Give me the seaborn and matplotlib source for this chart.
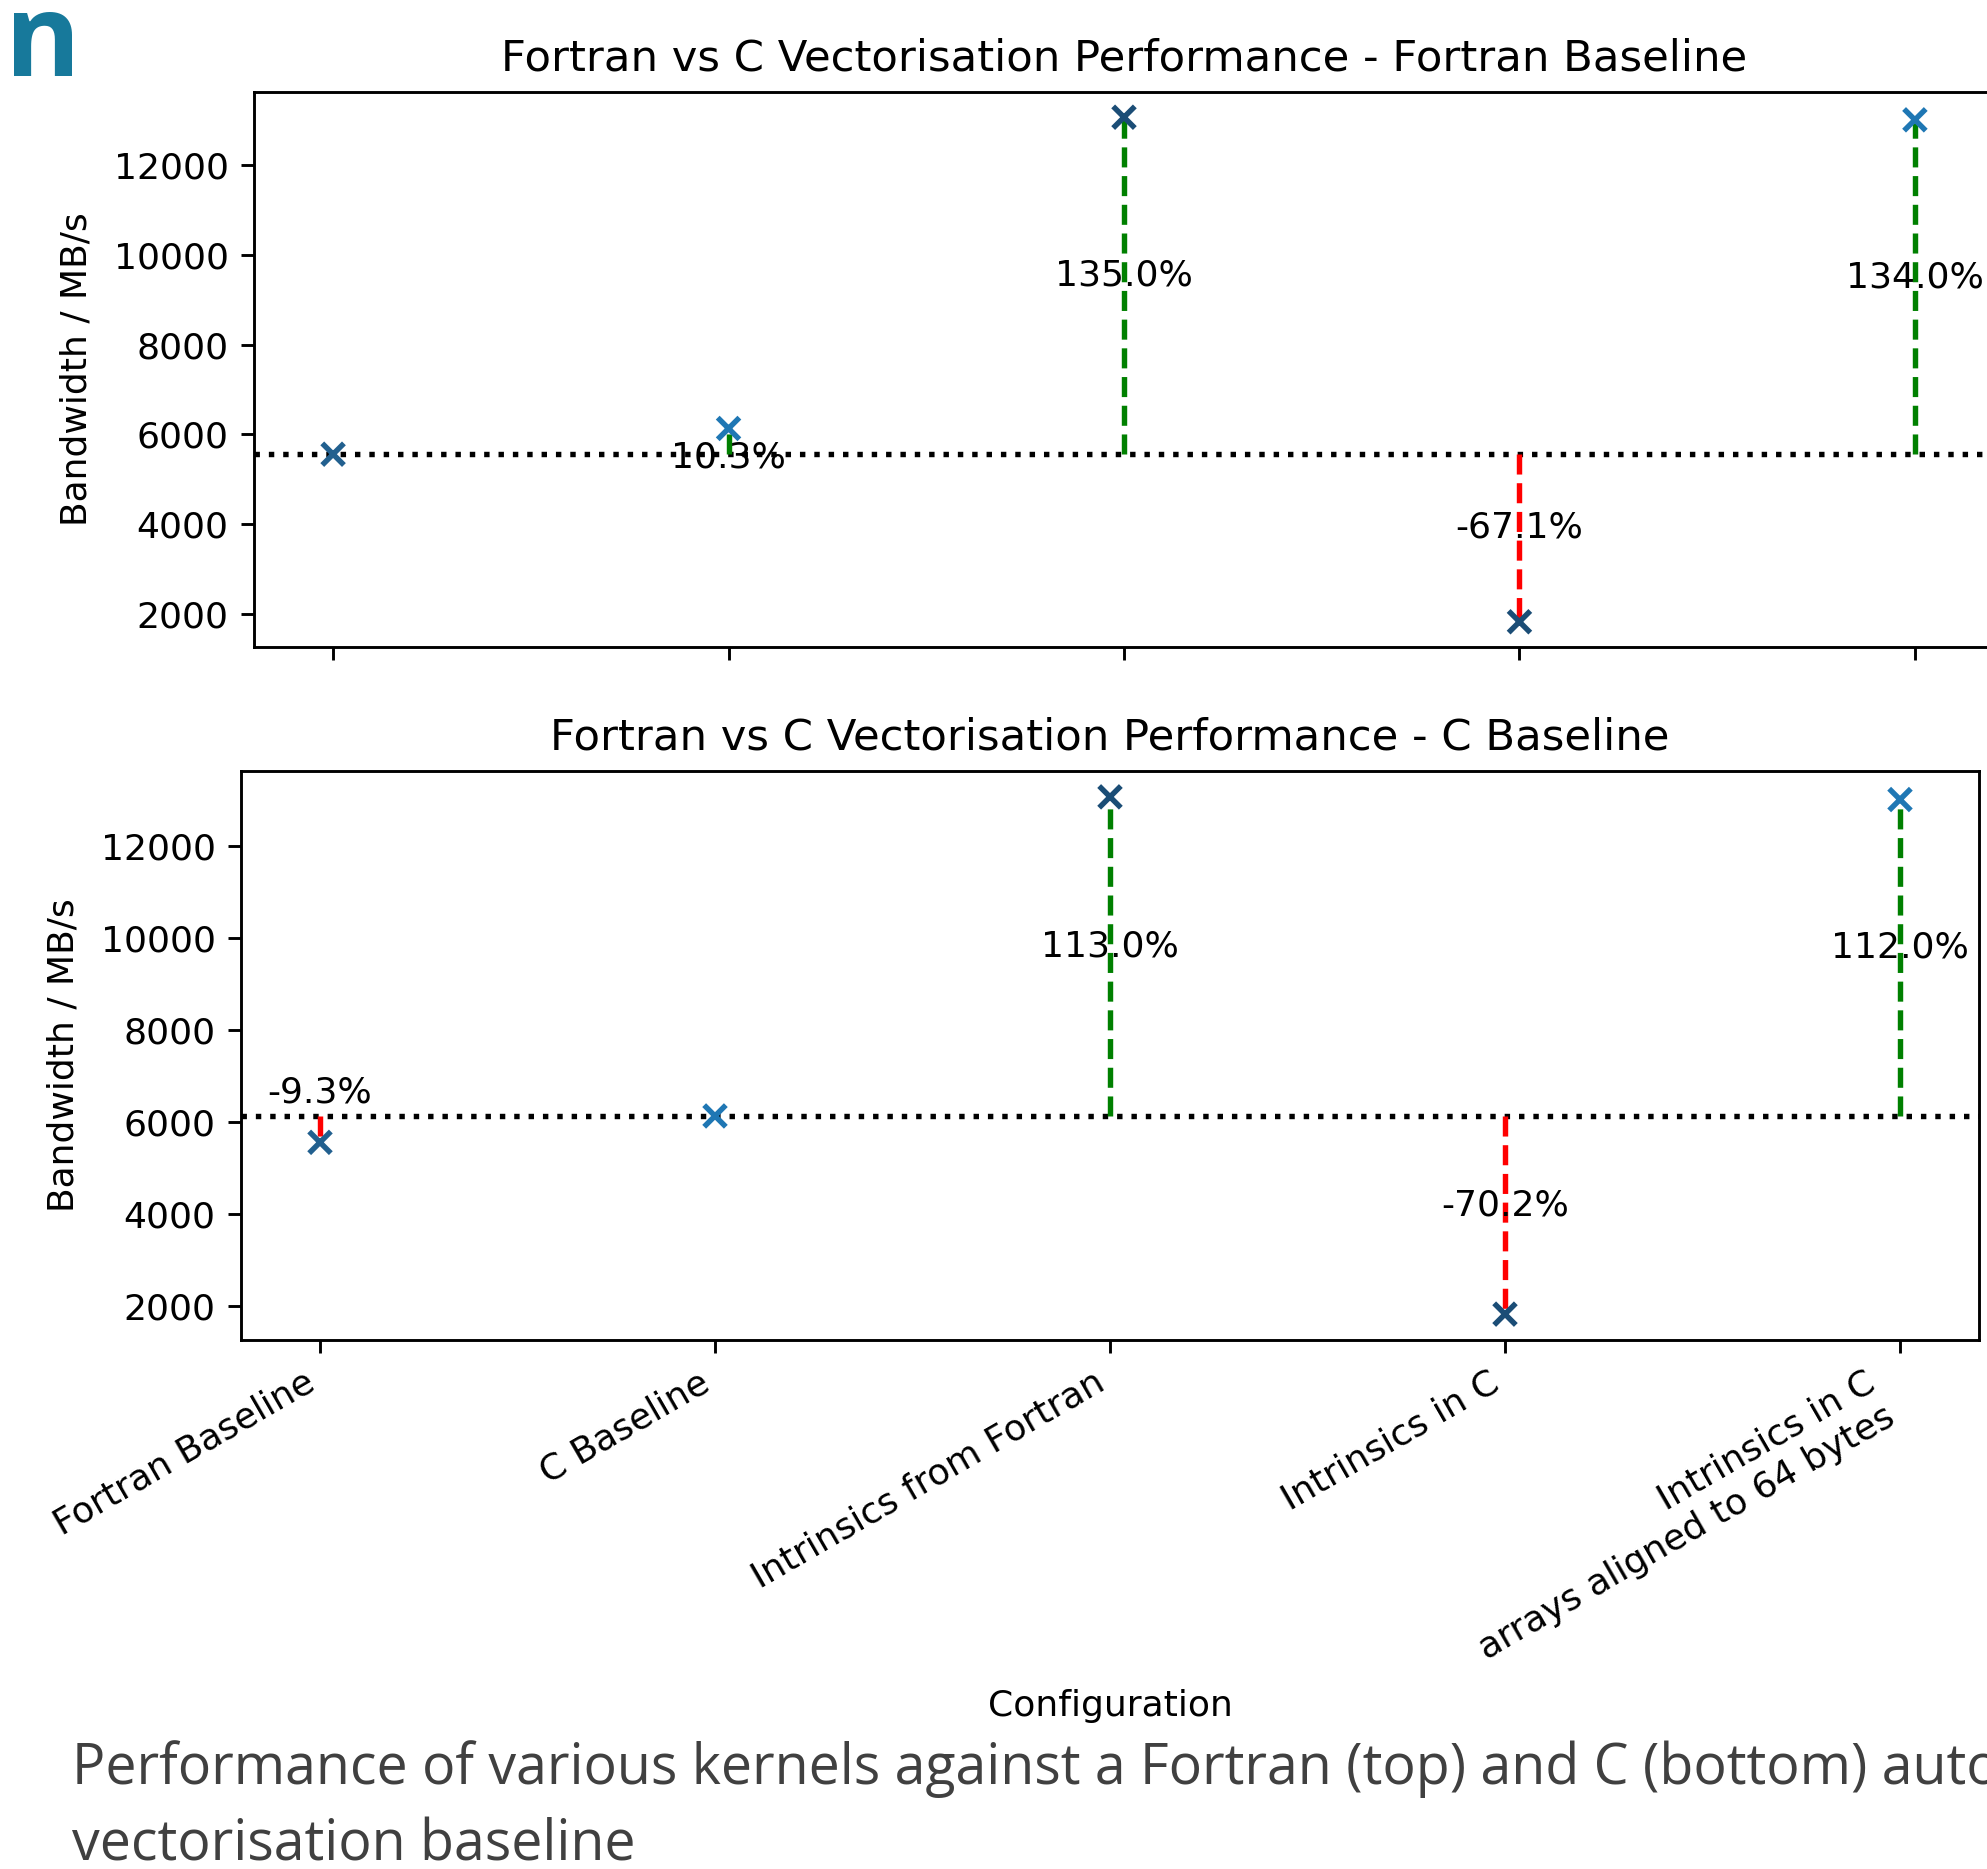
import matplotlib
matplotlib.use("Agg")
import matplotlib.pyplot as plt
import seaborn as sns
import pandas as pd

# ---------------- data ----------------
configs = [
    "Fortran Baseline",
    "C Baseline",
    "Intrinsics from Fortran",
    "Intrinsics in C",
    "Intrinsics in C\narrays aligned to 64 bytes",
]
bandwidth = [5560, 6133, 13063, 1829, 13005]          # MB/s
fortran_pct = [None, 10.3, 135.0, -67.1, 134.0]       # vs Fortran baseline
c_pct = [-9.3, None, 113.0, -70.2, 112.0]             # vs C baseline
top_title = "Fortran vs C Vectorisation Performance - Fortran Baseline"
bottom_title = "Fortran vs C Vectorisation Performance - C Baseline"
y_label = "Bandwidth / MB/s"
x_label = "Configuration"
caption_lines = [
    "Performance of various kernels against a Fortran (top) and C (bottom) auto-",
    "vectorisation baseline",
]
slide_title_fragment = "n"

# ---------------- style ----------------
W, H = 1987, 1869
S = 2.6
plt.rcParams.update({
    "font.family": ["DejaVu Sans"],
    "axes.linewidth": 0.8 * S,
    "xtick.major.size": 3.5 * S, "ytick.major.size": 3.5 * S,
    "xtick.major.width": 0.8 * S, "ytick.major.width": 0.8 * S,
    "xtick.major.pad": 3.5 * S, "ytick.major.pad": 3.5 * S,
    "xtick.labelsize": 10 * S, "ytick.labelsize": 10 * S,
    "axes.labelsize": 10 * S, "axes.titlesize": 12 * S,
    "axes.titlepad": 6 * S, "axes.labelpad": 4 * S,
})
marker_palette = ["#22608f", "#1f77b4", "#1b4d76", "#1b4d76", "#1f77b4"]

fig = plt.figure(figsize=(W / 100, H / 100), dpi=100)
ax1 = fig.add_axes([254 / W, 1 - 647 / H, 1740 / W, 555 / H])
ax2 = fig.add_axes([241 / W, 1 - 1340 / H, 1738 / W, 569 / H])

df = pd.DataFrame({"pos": range(len(configs)), "bw": bandwidth, "cfg": configs})


def draw_panel(ax, base_idx, pcts, title):
    base = bandwidth[base_idx]
    ax.axhline(base, color="k", ls=":", lw=1.5 * S, zorder=1)
    for i, p in enumerate(pcts):
        if p is None:
            continue
        val = bandwidth[i]
        col = "green" if p > 0 else "red"
        ax.vlines(i, base, val, colors=col, linestyles="--", lw=1.5 * S, zorder=2)
        diff = val - base
        if abs(p) < 15:
            ty = base - diff / 2
        else:
            ty = base + diff / 2
        ax.text(i, ty, f"{p:.1f}%", ha="center", va="baseline", fontsize=10 * S, zorder=4)
    sns.scatterplot(data=df, x="pos", y="bw", hue="cfg", palette=marker_palette,
                    marker="x", s=(6 * S) ** 2, linewidth=1.5 * S, legend=False,
                    ax=ax, zorder=3)
    ax.set_xlim(-0.2, len(configs) - 1 + 0.2)
    ax.set_title(title)
    ax.set_ylabel(y_label, labelpad=4 * S + 4)
    ax.set_xticks(range(len(configs)))


draw_panel(ax1, 0, fortran_pct, top_title)
draw_panel(ax2, 1, c_pct, bottom_title)

ax1.set_xlabel("")
ax1.tick_params(axis="x", labelbottom=False)
ax2.set_xticklabels(configs, rotation=30, ha="right")
ax2.set_xlabel(x_label, labelpad=4 * S + 6)

# ---------------- slide elements ----------------
fig.text(5 / W, 1 - 76 / H, slide_title_fragment, family=["Open Sans", "DejaVu Sans"],
         fontsize=83, fontweight="bold", color="#17799b", va="baseline", ha="left")
fig.text(72 / W, 1 - 1784 / H, caption_lines[0], family=["Open Sans", "DejaVu Sans"],
         fontsize=40, color="#404040", va="baseline", ha="left")
fig.text(72 / W, 1 - 1860 / H, caption_lines[1], family=["Open Sans", "DejaVu Sans"],
         fontsize=40, color="#404040", va="baseline", ha="left")

fig.savefig("out.png", dpi=100)
